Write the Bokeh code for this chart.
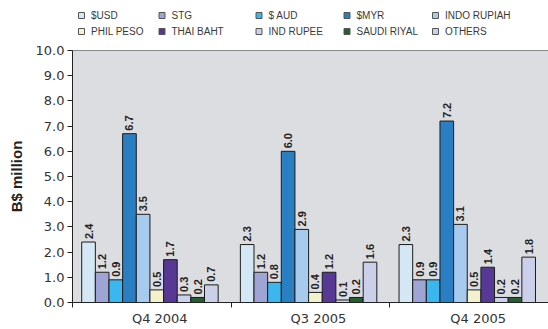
import math

from bokeh.plotting import figure
from bokeh.layouts import column
from bokeh.models import ColumnDataSource, FixedTicker, Span, NumeralTickFormatter
from bokeh.core.properties import value
from bokeh.embed import file_html
from bokeh.resources import INLINE

# Quarters shown on the x axis
periods = ["Q4 2004", "Q3 2005", "Q4  2005"]

# Currency series (B$ million) per quarter
currencies = ["$USD", "STG", "$ AUD", "$MYR", "INDO RUPIAH",
              "PHIL PESO", "THAI BAHT", "IND RUPEE", "SAUDI RIYAL", "OTHERS"]
usd = [2.4, 2.3, 2.3]
stg = [1.2, 1.2, 0.9]
aud = [0.9, 0.8, 0.9]
myr = [6.7, 6.0, 7.2]
indo_rupiah = [3.5, 2.9, 3.1]
phil_peso = [0.5, 0.4, 0.5]
thai_baht = [1.7, 1.2, 1.4]
ind_rupee = [0.3, 0.1, 0.2]
saudi_riyal = [0.2, 0.2, 0.2]
others = [0.7, 1.6, 1.8]

series = [usd, stg, aud, myr, indo_rupiah, phil_peso, thai_baht,
          ind_rupee, saudi_riyal, others]
colors = ["#d3e8f4", "#9ea4d4", "#3cb6ee", "#2a7fc2", "#a6cbee",
          "#f4f2cc", "#573894", "#cdd0ea", "#245d31", "#cbcfea"]

GROUP = 100.0          # width of one quarter on the x scale
BAR_W = 8.6            # width of one bar
LEFT_PAD = 5.8         # gap before the first bar of each quarter

# ---- main chart -------------------------------------------------------------
p = figure(width=548, height=289, x_range=(0, 3 * GROUP), y_range=(0, 10),
           output_backend="svg", toolbar_location=None,
           min_border_left=72, min_border_right=0,
           min_border_top=10, min_border_bottom=27)
p.background_fill_color = "#dcdde1"
p.border_fill_color = "white"
p.outline_line_color = None
p.xgrid.visible = False
p.ygrid.visible = False

for i, (vals, col) in enumerate(zip(series, colors)):
    xs = [g * GROUP + LEFT_PAD + (i + 0.5) * BAR_W for g in range(len(periods))]
    src = ColumnDataSource(dict(x=xs, top=vals,
                                lab=[f"{v:.1f}" for v in vals]))
    p.vbar(x="x", top="top", width=BAR_W, source=src,
           fill_color=col, line_color="#1c1c1c", line_width=1)
    p.text(x="x", y="top", text="lab", source=src, angle=math.pi / 2,
           text_align="left", text_baseline="middle", y_offset=-3,
           text_font=value("Liberation Sans"), text_font_style="bold",
           text_font_size="11px", text_color="#222222")

# top edge of the plotting area
p.add_layout(Span(location=10, dimension="width", line_color="#222222",
                  line_width=1.2))

# x axis: labels under each quarter, small ticks at the quarter boundaries
label_pos = [55, 155, 257]
p.xaxis.ticker = FixedTicker(ticks=label_pos,
                             minor_ticks=[g * GROUP for g in range(len(periods) + 1)])
p.xaxis.major_label_overrides = {pos: lab for pos, lab in zip(label_pos, periods)}
p.xaxis.major_tick_line_color = None
p.xaxis.major_tick_in = 0
p.xaxis.major_tick_out = 5
p.xaxis.minor_tick_in = 0
p.xaxis.minor_tick_out = 5
p.xaxis.minor_tick_line_color = "#222222"
p.xaxis.axis_line_color = "#222222"
p.xaxis.major_label_text_font = "DejaVu Sans"
p.xaxis.major_label_text_font_size = "13px"
p.xaxis.major_label_text_color = "#333333"
p.xaxis.major_label_standoff = 3

# y axis
p.yaxis.ticker = FixedTicker(ticks=list(range(0, 11)))
p.yaxis.formatter = NumeralTickFormatter(format="0.0")
p.yaxis.minor_tick_line_color = None
p.yaxis.major_tick_in = 0
p.yaxis.major_tick_out = 5
p.yaxis.major_tick_line_color = "#222222"
p.yaxis.axis_line_color = "#222222"
p.yaxis.major_label_text_font = "DejaVu Sans"
p.yaxis.major_label_text_font_size = "13px"
p.yaxis.major_label_text_color = "#333333"
p.yaxis.major_label_standoff = 3
p.yaxis.axis_label = "B$ million"
p.yaxis.axis_label_text_font = "Liberation Sans"
p.yaxis.axis_label_text_font_style = "bold"
p.yaxis.axis_label_text_font_size = "15px"
p.yaxis.axis_label_text_color = "#222222"
p.yaxis.axis_label_standoff = 8

# ---- legend strip above the chart (page pixels, y downwards) ----------------
# the column layout lines this strip's frame up with the chart frame (x 72..548)
lg = figure(width=548, height=40, output_backend="svg", toolbar_location=None,
            min_border_left=72, min_border_right=0, min_border_top=0,
            min_border_bottom=0, x_range=(72, 548), y_range=(40, 0))
lg.axis.visible = False
lg.grid.visible = False
lg.outline_line_color = None
lg.background_fill_color = "white"
lg.border_fill_color = "white"

col_x = [81, 161.5, 258.5, 346.5, 435]
row_y = [15, 31]
key_x = [col_x[k % 5] for k in range(len(currencies))]
key_y = [row_y[k // 5] for k in range(len(currencies))]
keys = ColumnDataSource(dict(x=key_x, y=key_y, tx=[x + 9.5 for x in key_x],
                             name=currencies, color=colors))
lg.scatter(x="x", y="y", source=keys, marker="square", size=6,
           fill_color="color", line_color="#555555", line_width=1)
lg.text(x="tx", y="y", text="name", source=keys, text_align="left",
        text_baseline="middle", text_font=value("Liberation Sans"),
        text_font_size="10px", text_color="#3a3a3a")

layout = column(lg, p, spacing=0)
open("out.html", "w").write(file_html(layout, INLINE))
